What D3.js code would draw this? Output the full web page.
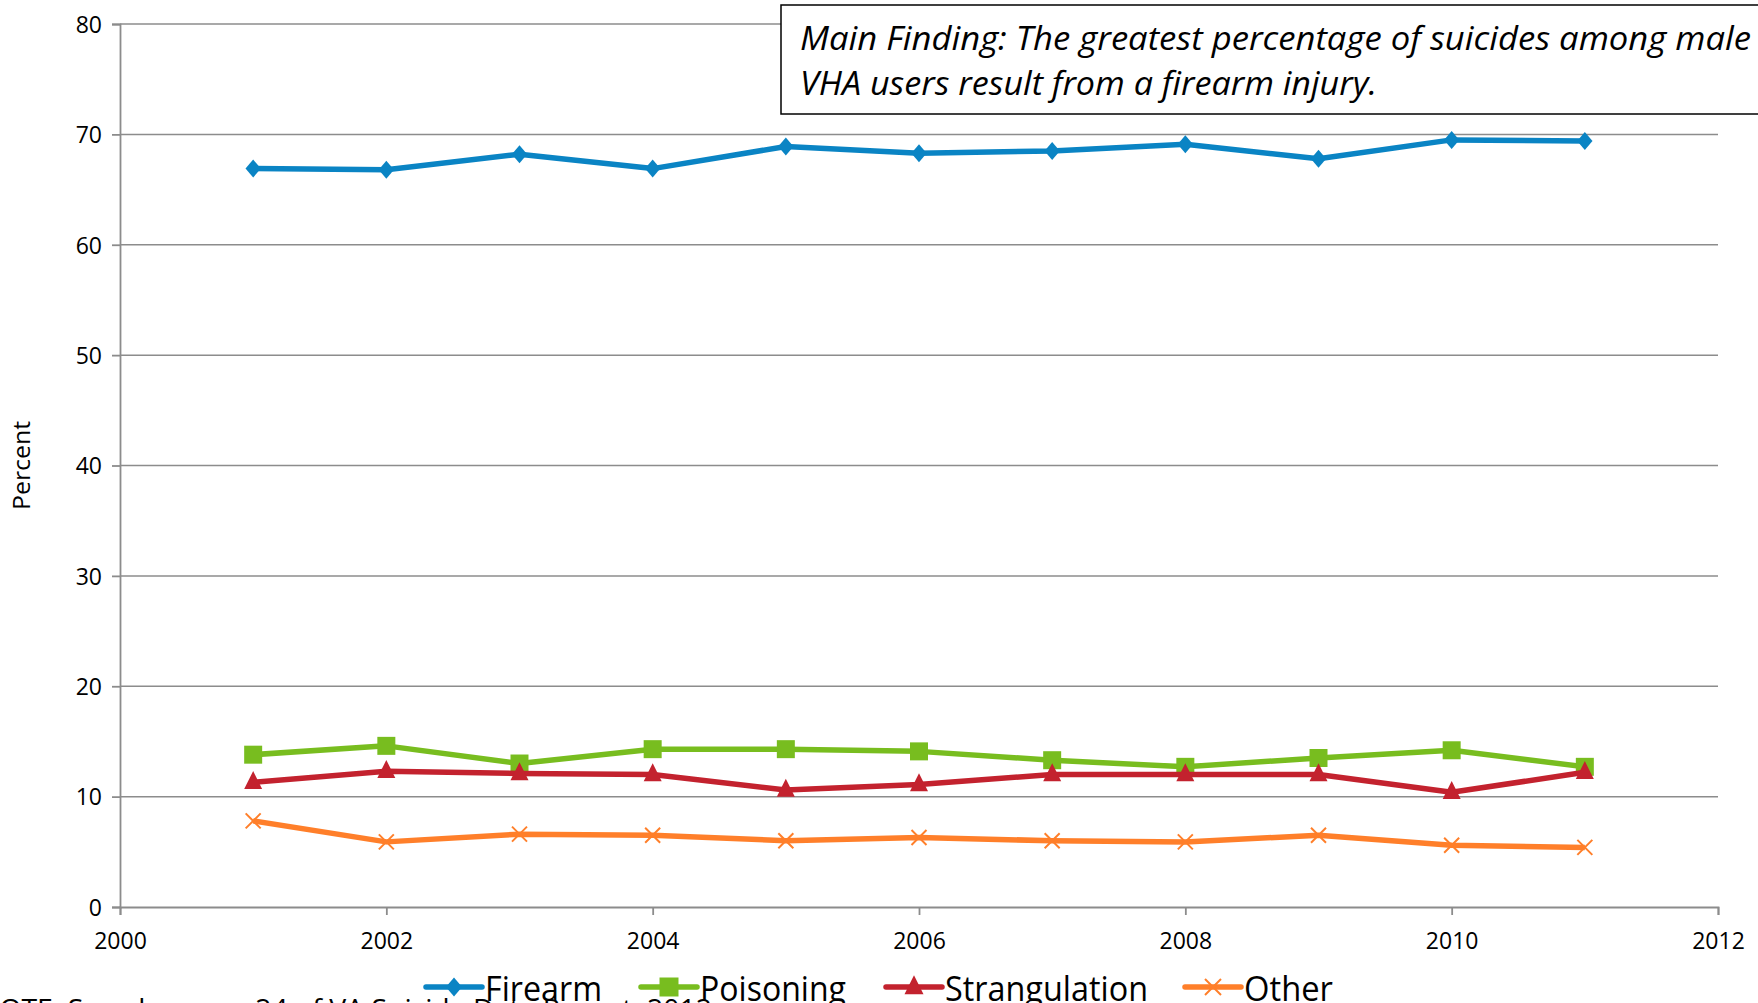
<!DOCTYPE html>
<html>
<head>
<meta charset="utf-8">
<script src="https://cdn.jsdelivr.net/npm/d3@7/dist/d3.min.js"></script>
<style>
  html, body { margin: 0; padding: 0; background: #fff; overflow: hidden; }
  svg { display: block; font-family: "Open Sans", sans-serif; }
</style>
</head>
<body>
<svg id="chart" width="1758" height="1003"></svg>
<script>
// data
var years = [2001, 2002, 2003, 2004, 2005, 2006, 2007, 2008, 2009, 2010, 2011];
var firearm = [66.9, 66.8, 68.2, 66.9, 68.9, 68.3, 68.5, 69.1, 67.8, 69.5, 69.4];
var poisoning = [13.8, 14.6, 13.0, 14.3, 14.3, 14.1, 13.3, 12.7, 13.5, 14.2, 12.7];
var strangulation = [11.3, 12.3, 12.1, 12.0, 10.6, 11.1, 12.0, 12.0, 12.0, 10.4, 12.2];
var other = [7.8, 5.9, 6.6, 6.5, 6.0, 6.3, 6.0, 5.9, 6.5, 5.6, 5.4];
var xTicks = [2000, 2002, 2004, 2006, 2008, 2010, 2012];
var yTicks = [0, 10, 20, 30, 40, 50, 60, 70, 80];

var series = [
  {name: "Firearm", values: firearm, color: "#0a84c4", marker: "diamond", legendW: 117},
  {name: "Poisoning", values: poisoning, color: "#78bd1f", marker: "square", legendW: 146},
  {name: "Strangulation", values: strangulation, color: "#c3222e", marker: "triangle", legendW: 203},
  {name: "Other", values: other, color: "#ff7f2a", marker: "x", legendW: 89}
]

var svg = d3.select("#chart")
var gridColor = "#8c8c8c"

var x = d3.scaleLinear().domain([2000, 2012]).range([120, 1718]);
var y = d3.scaleLinear().domain([0, 80]).range([907, 24]);

// gridlines
svg.append("g")
    .selectAll("line")
    .data(yTicks.filter(d => d > 0))
    .enter().append("line")
    .attr("x1", x(2000))
    .attr("x2", x(2012))
    .attr("y1", d => y(d))
    .attr("y2", d => y(d))
    .attr("stroke", gridColor)
    .attr("stroke-width", 1.5)

// axes
var yAxis = svg.append("g")
    .attr("transform", "translate(" + x(2000) + ",0)")
    .call(d3.axisLeft(y).tickValues(yTicks).tickSize(8).tickPadding(10).tickFormat(d3.format("d")))
var xAxis = svg.append("g")
    .attr("transform", "translate(0," + y(0) + ")")
    .call(d3.axisBottom(x).tickValues(xTicks).tickSize(8).tickPadding(14).tickFormat(d3.format("d")))

;[yAxis, xAxis].forEach(function(a){
    a.select(".domain").attr("stroke", gridColor).attr("stroke-width", 1.8)
    a.selectAll(".tick line").attr("stroke", gridColor).attr("stroke-width", 1.8)
    a.selectAll(".tick text")
        .attr("fill", "#000")
        .style("font-size", "23px")
        .style("font-family", "'Open Sans', sans-serif")
})
yAxis.selectAll(".tick text").attr("dy", "0.36em")
xAxis.selectAll(".tick text").attr("dy", "0.85em")

// y label
svg.append("text")
    .attr("transform", "translate(30," + y(40) + ") rotate(-90)")
    .attr("text-anchor", "middle")
    .attr("textLength", 89)
    .attr("lengthAdjust", "spacingAndGlyphs")
    .style("font-size", "23px")
    .text("Percent")

function markerPath(type, s) {
    if (type === "diamond") return "M0," + (-s) + "L" + (s*0.85) + ",0L0," + s + "L" + (-s*0.85) + ",0Z";
    if (type === "square") return "M" + (-s) + "," + (-s) + "h" + (2*s) + "v" + (2*s) + "h" + (-2*s) + "Z";
    if (type === "triangle") return "M0," + (-s*1.25) + "L" + s + "," + (s*0.75) + "L" + (-s) + "," + (s*0.75) + "Z";
    return "M" + (-s) + "," + (-s) + "L" + s + "," + s + "M" + s + "," + (-s) + "L" + (-s) + "," + s;
}

var line = d3.line()
    .x(d => x(d[0]))
    .y(d => y(d[1]))

series.forEach(function(s){
    var pts = years.map((yr, i) => [yr, s.values[i]])
    var g = svg.append("g").attr("class", "series")
    g.append("path")
        .datum(pts)
        .attr("fill", "none")
        .attr("stroke", s.color)
        .attr("stroke-width", 5.5)
        .attr("stroke-linejoin", "round")
        .attr("d", line)
    g.selectAll(".mk")
        .data(pts)
        .enter().append("path")
        .attr("class", "mk")
        .attr("transform", d => "translate(" + x(d[0]) + "," + y(d[1]) + ")")
        .attr("d", markerPath(s.marker, s.marker === "x" ? 7.5 : 9))
        .attr("fill", s.marker === "x" ? "none" : s.color)
        .attr("stroke", s.color)
        .attr("stroke-width", s.marker === "x" ? 2 : 0)
})

// annotation box
svg.append("rect")
    .attr("x", 781)
    .attr("y", 5)
    .attr("width", 1000)
    .attr("height", 109)
    .attr("fill", "#fff")
    .attr("stroke", "#000")
    .attr("stroke-width", 1.5)
svg.append("text")
    .attr("x", 800)
    .attr("y", 50)
    .attr("textLength", 951)
    .attr("lengthAdjust", "spacingAndGlyphs")
    .style("font-size", "33px")
    .style("font-style", "italic")
    .text("Main Finding: The greatest percentage of suicides among male")
svg.append("text")
    .attr("x", 800)
    .attr("y", 95)
    .attr("textLength", 577)
    .attr("lengthAdjust", "spacingAndGlyphs")
    .style("font-size", "33px")
    .style("font-style", "italic")
    .text("VHA users result from a firearm injury.")

// footnote (mostly cut off at the bottom edge)
svg.append("text")
    .attr("x", -22)
    .attr("y", 1019)
    .attr("textLength", 734)
    .attr("lengthAdjust", "spacingAndGlyphs")
    .style("font-size", "28px")
    .text("NOTE: See also page 24 of VA Suicide Data Report, 2012")

// legend
var legX = [426, 641, 886, 1185]
var legY = 987
series.forEach(function(s, i){
    var g = svg.append("g").attr("transform", "translate(" + legX[i] + "," + legY + ")")
    g.append("line")
        .attr("x1", 0).attr("x2", 56)
        .attr("stroke", s.color)
        .attr("stroke-width", 5.5)
        .attr("stroke-linecap", "round")
    g.append("path")
        .attr("transform", "translate(28,0)")
        .attr("d", markerPath(s.marker, s.marker === "x" ? 8 : 9.5))
        .attr("fill", s.marker === "x" ? "none" : s.color)
        .attr("stroke", s.color)
        .attr("stroke-width", s.marker === "x" ? 2 : 0)
    g.append("text")
        .attr("x", 59)
        .attr("y", 14)
        .attr("textLength", s.legendW)
        .attr("lengthAdjust", "spacingAndGlyphs")
        .style("font-size", "34px")
        .text(s.name)
})
</script>
</body>
</html>
